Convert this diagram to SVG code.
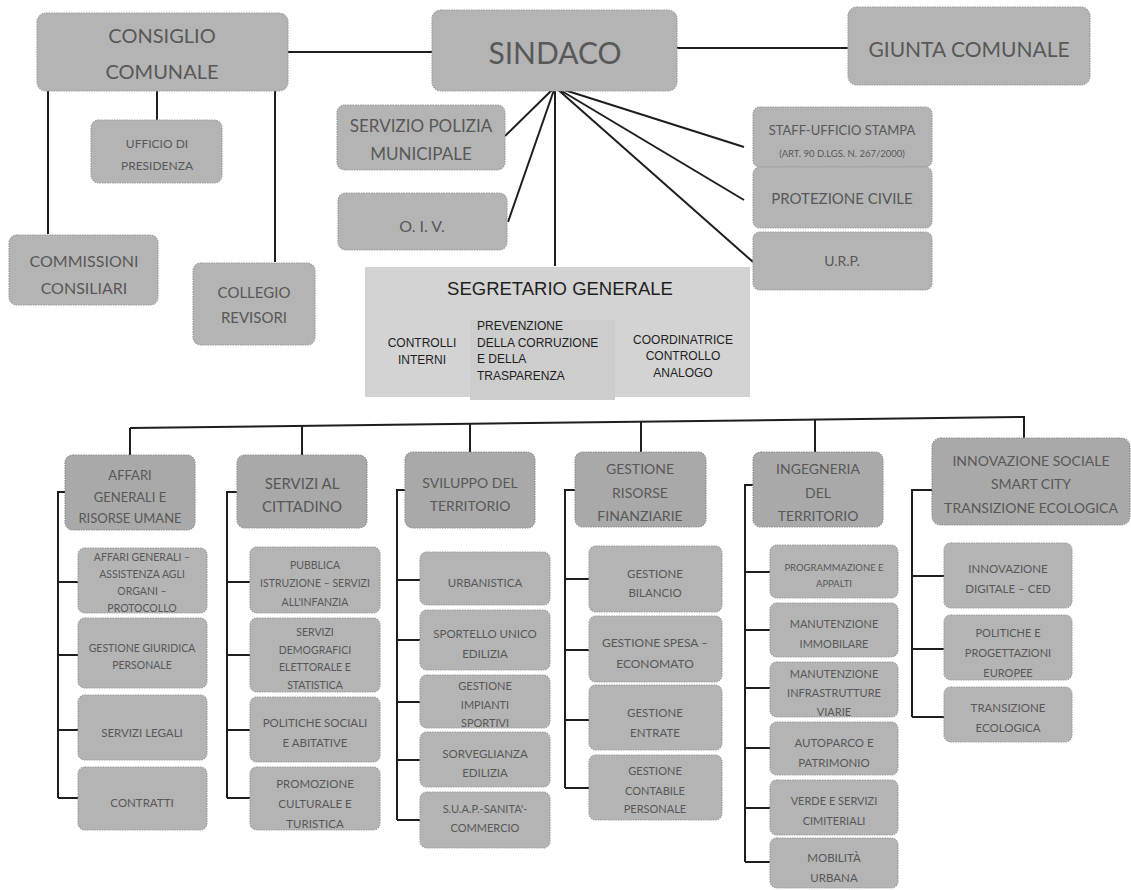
<svg xmlns="http://www.w3.org/2000/svg" width="1131" height="890" viewBox="0 0 1131 890">
<style>
.bx{fill:#b4b4b4;stroke:#9c9c9c;stroke-width:1.2;stroke-dasharray:1.5 1}
.hd{fill:#a9a9a9;stroke:#8f8f8f;stroke-width:1.2;stroke-dasharray:1.5 1}
.sg{fill:#d3d3d3}
.sg2{fill:#cdcdcd}
.t{font-family:Lato,"Open Sans","Liberation Sans",sans-serif;fill:#585858;text-anchor:middle;dominant-baseline:central}
.a{font-family:"Liberation Sans",Arial,sans-serif;fill:#1e1e1e;dominant-baseline:central}
.ln{stroke:#1e1e1e;stroke-width:2;fill:none}
</style>
<rect width="1131" height="890" fill="#ffffff"/>
<g id="connectors" class="ln">
<path d="M288 52H433M677 48H848"/>
<path d="M157 91V120M48 91V234M275 91V262"/>
<path d="M555 87L505 136M555 87L508 222M555 87V266M555 87L744 147M555 87L744 200M555 87L753 262"/>
<path d="M130 428L1025 417"/>
<path d="M130 428V455M302 426V455M470 424V452M641 422V452M815 420V452M1024 417V438"/>
<path d="M65 492H58V798M58 582H78M58 655H78M58 730H78M58 798H78"/>
<path d="M237 492H227V798M227 582H250M227 655H250M227 730H250M227 798H250"/>
<path d="M405 490H397V820M397 580H420M397 640H420M397 702H420M397 760H420M397 820H420"/>
<path d="M575 490H565V788M565 579H589M565 650H589M565 720H589M565 788H589"/>
<path d="M753 485H745V862M745 572H770M745 630H770M745 688H770M745 748H770M745 808H770M745 862H770"/>
<path d="M932 490H912V717M912 576H944M912 649H944M912 717H944"/>
</g>
<g id="consiglio"><rect class="bx" x="37" y="13" width="251" height="78" rx="9"/><text class="t" x="162" y="35" font-size="20">CONSIGLIO</text><text class="t" x="162" y="71" font-size="20">COMUNALE</text></g>
<g id="sindaco"><rect class="bx" x="432" y="10" width="245" height="81" rx="9"/><text class="t" x="555" y="52" font-size="30">SINDACO</text></g>
<g id="giunta"><rect class="bx" x="848" y="7" width="242" height="78" rx="9"/><text class="t" x="969" y="48" font-size="21">GIUNTA COMUNALE</text></g>
<g id="ufficio-presidenza"><rect class="bx" x="91" y="120" width="131" height="63" rx="8"/><text class="t" x="157" y="143" font-size="12">UFFICIO DI</text><text class="t" x="157" y="165" font-size="12">PRESIDENZA</text></g>
<g id="commissioni"><rect class="bx" x="9" y="235" width="149" height="70" rx="8"/><text class="t" x="84" y="260" font-size="16">COMMISSIONI</text><text class="t" x="84" y="287" font-size="16">CONSILIARI</text></g>
<g id="collegio"><rect class="bx" x="193" y="263" width="122" height="82" rx="8"/><text class="t" x="254" y="292" font-size="15">COLLEGIO</text><text class="t" x="254" y="317" font-size="15">REVISORI</text></g>
<g id="polizia"><rect class="bx" x="337" y="105" width="168" height="65" rx="8"/><text class="t" x="421" y="125" font-size="17">SERVIZIO POLIZIA</text><text class="t" x="421" y="153" font-size="17">MUNICIPALE</text></g>
<g id="oiv"><rect class="bx" x="338" y="193" width="169" height="57" rx="8"/><text class="t" x="422" y="225" font-size="16">O. I. V.</text></g>
<g id="staff"><rect class="bx" x="753" y="107" width="179" height="60" rx="7"/><text class="t" x="842" y="130" font-size="13">STAFF-UFFICIO STAMPA</text><text class="t" x="842" y="153" font-size="9.5">(ART. 90 D.LGS. N. 267/2000)</text></g>
<g id="protezione"><rect class="bx" x="753" y="167" width="179" height="61" rx="7"/><text class="t" x="842" y="198" font-size="15">PROTEZIONE CIVILE</text></g>
<g id="urp"><rect class="bx" x="753" y="232" width="179" height="58" rx="7"/><text class="t" x="842" y="260" font-size="14">U.R.P.</text></g>
<g id="segretario">
<rect class="sg" x="365" y="267" width="385" height="130"/>
<rect class="sg2" x="470" y="320" width="145" height="80"/>
<text class="a" x="560" y="288" font-size="18.5" text-anchor="middle">SEGRETARIO GENERALE</text>
<text class="a" x="422" y="343" font-size="12" text-anchor="middle">CONTROLLI</text>
<text class="a" x="422" y="360" font-size="12" text-anchor="middle">INTERNI</text>
<text class="a" x="477" y="326" font-size="12">PREVENZIONE</text>
<text class="a" x="477" y="343" font-size="12">DELLA CORRUZIONE</text>
<text class="a" x="477" y="359" font-size="12">E DELLA</text>
<text class="a" x="477" y="376" font-size="12">TRASPARENZA</text>
<text class="a" x="683" y="340" font-size="12" text-anchor="middle">COORDINATRICE</text>
<text class="a" x="683" y="356" font-size="12" text-anchor="middle">CONTROLLO</text>
<text class="a" x="683" y="373" font-size="12" text-anchor="middle">ANALOGO</text>
</g>
<g id="h-affari"><rect class="hd" x="65" y="455" width="130" height="75" rx="8"/><text class="t" x="130" y="475" font-size="13">AFFARI</text><text class="t" x="130" y="497" font-size="13">GENERALI E</text><text class="t" x="130" y="518" font-size="13">RISORSE UMANE</text></g>
<g id="h-servizi"><rect class="hd" x="237" y="455" width="130" height="73" rx="8"/><text class="t" x="302" y="483" font-size="15">SERVIZI AL</text><text class="t" x="302" y="506" font-size="15">CITTADINO</text></g>
<g id="h-sviluppo"><rect class="hd" x="405" y="452" width="130" height="76" rx="8"/><text class="t" x="470" y="482" font-size="14">SVILUPPO DEL</text><text class="t" x="470" y="505" font-size="14">TERRITORIO</text></g>
<g id="h-gestione"><rect class="hd" x="575" y="452" width="131" height="75" rx="8"/><text class="t" x="640" y="468" font-size="14">GESTIONE</text><text class="t" x="640" y="492" font-size="14">RISORSE</text><text class="t" x="640" y="515" font-size="14">FINANZIARIE</text></g>
<g id="h-ingegneria"><rect class="hd" x="753" y="452" width="130" height="75" rx="8"/><text class="t" x="818" y="468" font-size="14">INGEGNERIA</text><text class="t" x="818" y="492" font-size="14">DEL</text><text class="t" x="818" y="515" font-size="14">TERRITORIO</text></g>
<g id="h-innovazione"><rect class="hd" x="932" y="438" width="198" height="87" rx="9"/><text class="t" x="1031" y="460" font-size="14">INNOVAZIONE SOCIALE</text><text class="t" x="1031" y="483" font-size="14">SMART CITY</text><text class="t" x="1031" y="507" font-size="14">TRANSIZIONE ECOLOGICA</text></g>
<g id="c1a"><rect class="bx" x="78" y="548" width="129" height="65" rx="7"/><text class="t" x="142" y="557" font-size="10.5">AFFARI GENERALI –</text><text class="t" x="142" y="574" font-size="10.5">ASSISTENZA AGLI</text><text class="t" x="142" y="591" font-size="10.5">ORGANI –</text><text class="t" x="142" y="608" font-size="10.5">PROTOCOLLO</text></g>
<g id="c1b"><rect class="bx" x="78" y="618" width="129" height="70" rx="7"/><text class="t" x="142" y="648" font-size="10.5">GESTIONE GIURIDICA</text><text class="t" x="142" y="665" font-size="10.5">PERSONALE</text></g>
<g id="c1c"><rect class="bx" x="78" y="695" width="129" height="65" rx="7"/><text class="t" x="142" y="732" font-size="11.5">SERVIZI LEGALI</text></g>
<g id="c1d"><rect class="bx" x="78" y="767" width="129" height="63" rx="7"/><text class="t" x="142" y="802" font-size="11.5">CONTRATTI</text></g>
<g id="c2a"><rect class="bx" x="250" y="547" width="130" height="66" rx="7"/><text class="t" x="315" y="565" font-size="10.5">PUBBLICA</text><text class="t" x="315" y="583" font-size="10.5">ISTRUZIONE – SERVIZI</text><text class="t" x="315" y="602" font-size="10.5">ALL'INFANZIA</text></g>
<g id="c2b"><rect class="bx" x="250" y="618" width="130" height="74" rx="7"/><text class="t" x="315" y="632" font-size="10.5">SERVIZI</text><text class="t" x="315" y="650" font-size="10.5">DEMOGRAFICI</text><text class="t" x="315" y="667" font-size="10.5">ELETTORALE E</text><text class="t" x="315" y="685" font-size="10.5">STATISTICA</text></g>
<g id="c2c"><rect class="bx" x="250" y="697" width="130" height="65" rx="7"/><text class="t" x="315" y="722" font-size="11.5">POLITICHE SOCIALI</text><text class="t" x="315" y="742" font-size="11.5">E ABITATIVE</text></g>
<g id="c2d"><rect class="bx" x="250" y="767" width="130" height="63" rx="7"/><text class="t" x="315" y="783" font-size="11.5">PROMOZIONE</text><text class="t" x="315" y="803" font-size="11.5">CULTURALE E</text><text class="t" x="315" y="823" font-size="11.5">TURISTICA</text></g>
<g id="c3a"><rect class="bx" x="420" y="552" width="130" height="53" rx="7"/><text class="t" x="485" y="582" font-size="11.5">URBANISTICA</text></g>
<g id="c3b"><rect class="bx" x="420" y="610" width="130" height="60" rx="7"/><text class="t" x="485" y="633" font-size="11.5">SPORTELLO UNICO</text><text class="t" x="485" y="653" font-size="11.5">EDILIZIA</text></g>
<g id="c3c"><rect class="bx" x="420" y="675" width="130" height="53" rx="7"/><text class="t" x="485" y="685" font-size="11">GESTIONE</text><text class="t" x="485" y="704" font-size="11">IMPIANTI</text><text class="t" x="485" y="722" font-size="11">SPORTIVI</text></g>
<g id="c3d"><rect class="bx" x="420" y="732" width="130" height="55" rx="7"/><text class="t" x="485" y="753" font-size="11.5">SORVEGLIANZA</text><text class="t" x="485" y="772" font-size="11.5">EDILIZIA</text></g>
<g id="c3e"><rect class="bx" x="420" y="792" width="130" height="56" rx="7"/><text class="t" x="485" y="808" font-size="11">S.U.A.P.-SANITA'-</text><text class="t" x="485" y="827" font-size="11">COMMERCIO</text></g>
<g id="c4a"><rect class="bx" x="589" y="546" width="133" height="66" rx="7"/><text class="t" x="655" y="573" font-size="11.5">GESTIONE</text><text class="t" x="655" y="592" font-size="11.5">BILANCIO</text></g>
<g id="c4b"><rect class="bx" x="589" y="616" width="133" height="66" rx="7"/><text class="t" x="655" y="642" font-size="12">GESTIONE SPESA –</text><text class="t" x="655" y="663" font-size="12">ECONOMATO</text></g>
<g id="c4c"><rect class="bx" x="589" y="685" width="133" height="65" rx="7"/><text class="t" x="655" y="712" font-size="11.5">GESTIONE</text><text class="t" x="655" y="732" font-size="11.5">ENTRATE</text></g>
<g id="c4d"><rect class="bx" x="589" y="755" width="133" height="65" rx="7"/><text class="t" x="655" y="770" font-size="11">GESTIONE</text><text class="t" x="655" y="790" font-size="11">CONTABILE</text><text class="t" x="655" y="808" font-size="11">PERSONALE</text></g>
<g id="c5a"><rect class="bx" x="770" y="545" width="128" height="53" rx="7"/><text class="t" x="834" y="567" font-size="9.5">PROGRAMMAZIONE E</text><text class="t" x="834" y="583" font-size="9.5">APPALTI</text></g>
<g id="c5b"><rect class="bx" x="770" y="603" width="128" height="54" rx="7"/><text class="t" x="834" y="623" font-size="11">MANUTENZIONE</text><text class="t" x="834" y="643" font-size="11">IMMOBILARE</text></g>
<g id="c5c"><rect class="bx" x="770" y="662" width="128" height="55" rx="7"/><text class="t" x="834" y="673" font-size="11">MANUTENZIONE</text><text class="t" x="834" y="692" font-size="11">INFRASTRUTTURE</text><text class="t" x="834" y="711" font-size="11">VIARIE</text></g>
<g id="c5d"><rect class="bx" x="770" y="722" width="128" height="53" rx="7"/><text class="t" x="834" y="742" font-size="11.5">AUTOPARCO E</text><text class="t" x="834" y="762" font-size="11.5">PATRIMONIO</text></g>
<g id="c5e"><rect class="bx" x="770" y="780" width="128" height="55" rx="7"/><text class="t" x="834" y="800" font-size="11">VERDE E SERVIZI</text><text class="t" x="834" y="820" font-size="11">CIMITERIALI</text></g>
<g id="c5f"><rect class="bx" x="770" y="838" width="128" height="50" rx="7"/><text class="t" x="834" y="857" font-size="11.5">MOBILITÀ</text><text class="t" x="834" y="877" font-size="11.5">URBANA</text></g>
<g id="c6a"><rect class="bx" x="944" y="543" width="128" height="65" rx="7"/><text class="t" x="1008" y="568" font-size="11.5">INNOVAZIONE</text><text class="t" x="1008" y="588" font-size="11.5">DIGITALE – CED</text></g>
<g id="c6b"><rect class="bx" x="944" y="615" width="128" height="65" rx="7"/><text class="t" x="1008" y="632" font-size="11">POLITICHE E</text><text class="t" x="1008" y="652" font-size="11">PROGETTAZIONI</text><text class="t" x="1008" y="672" font-size="11">EUROPEE</text></g>
<g id="c6c"><rect class="bx" x="944" y="687" width="128" height="55" rx="7"/><text class="t" x="1008" y="707" font-size="11.5">TRANSIZIONE</text><text class="t" x="1008" y="727" font-size="11.5">ECOLOGICA</text></g>
</svg>
